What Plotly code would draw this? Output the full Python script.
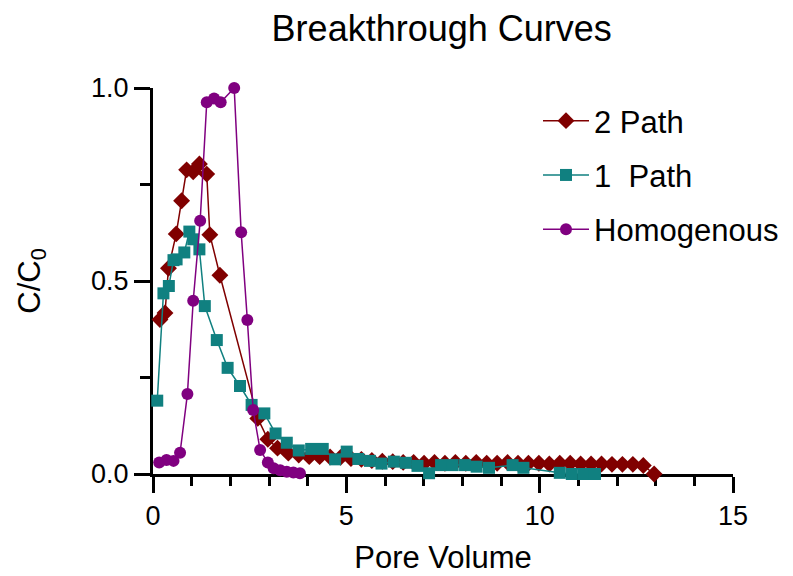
import plotly.graph_objects as go

# ---- data ----
path2_x = [0.18, 0.31, 0.40, 0.60, 0.74, 0.87, 1.04, 1.20, 1.39, 1.47, 1.73,
           2.71, 2.97, 3.22, 3.50, 3.77, 4.04, 4.31, 4.58, 4.85, 5.12, 5.39,
           5.66, 5.93, 6.20, 6.47, 6.74, 7.01, 7.28, 7.55, 7.82, 8.09, 8.36,
           8.63, 8.90, 9.17, 9.44, 9.71, 9.98, 10.25, 10.52, 10.79, 11.06,
           11.33, 11.60, 11.87, 12.14, 12.41, 12.68, 12.96]
path2_y = [0.400, 0.417, 0.533, 0.622, 0.708, 0.788, 0.783, 0.803, 0.777, 0.620, 0.515,
           0.144, 0.090, 0.067, 0.054, 0.049, 0.045, 0.045, 0.044, 0.043, 0.040, 0.038,
           0.035, 0.033, 0.032, 0.030, 0.030, 0.028, 0.030, 0.028, 0.030, 0.028, 0.030,
           0.028, 0.028, 0.030, 0.028, 0.028, 0.028, 0.026, 0.028, 0.028, 0.026,
           0.026, 0.026, 0.025, 0.025, 0.025, 0.022, 0.000]

path1_x = [0.11, 0.27, 0.41, 0.53, 0.61, 0.81, 0.94, 1.04, 1.20, 1.34, 1.65, 1.93,
           2.25, 2.55, 2.88, 3.17, 3.46, 3.77, 4.09, 4.39, 4.71, 5.01, 5.31, 5.61,
           5.91, 6.23, 6.54, 6.84, 7.14, 7.45, 7.75, 8.07, 8.37, 8.69, 9.30, 9.58,
           10.52, 10.83, 11.13, 11.43]
path1_y = [0.190, 0.468, 0.487, 0.554, 0.556, 0.574, 0.628, 0.608, 0.582, 0.435, 0.347, 0.275,
           0.228, 0.179, 0.157, 0.105, 0.081, 0.061, 0.065, 0.065, 0.038, 0.058, 0.039, 0.034,
           0.027, 0.032, 0.029, 0.021, 0.002, 0.023, 0.023, 0.023, 0.019, 0.016, 0.023, 0.016,
           0.003, 0.000, 0.000, 0.000]

homo_x = [0.16, 0.35, 0.53, 0.70, 0.89, 1.04, 1.22, 1.39, 1.58, 1.75, 2.10, 2.28,
          2.44, 2.59, 2.77, 2.97, 3.12, 3.29, 3.46, 3.63, 3.80]
homo_y = [0.030, 0.036, 0.034, 0.055, 0.207, 0.449, 0.656, 0.963, 0.973, 0.963, 1.000, 0.626,
          0.399, 0.166, 0.062, 0.030, 0.015, 0.010, 0.006, 0.004, 0.002]

x_ticks = [0, 5, 10, 15]
y_ticks = [0.0, 0.5, 1.0]

RED = "rgb(128,0,0)"
TEAL = "rgb(16,128,128)"
PURPLE = "rgb(128,0,128)"
FONT = "Liberation Sans, Arial, sans-serif"

fig = go.Figure()
fig.add_trace(go.Scatter(x=path2_x, y=path2_y, mode="lines+markers", name="2 Path",
                         legendgroup="a",
                         line=dict(color=RED, width=1.5),
                         marker=dict(symbol="diamond", size=13, color=RED),
                         cliponaxis=False))
fig.add_trace(go.Scatter(x=path1_x, y=path1_y, mode="lines+markers", name="1  Path",
                         legendgroup="b",
                         line=dict(color=TEAL, width=1.5),
                         marker=dict(symbol="square", size=12, color=TEAL),
                         cliponaxis=False))
fig.add_trace(go.Scatter(x=homo_x, y=homo_y, mode="lines+markers", name="Homogenous",
                         legendgroup="c",
                         line=dict(color=PURPLE, width=1.5),
                         marker=dict(symbol="circle", size=12, color=PURPLE),
                         cliponaxis=False))

axis_common = dict(showline=True, linecolor="black", linewidth=3, ticks="outside",
                   tickcolor="black", tickwidth=3, showgrid=False, zeroline=False,
                   tickfont=dict(family=FONT, size=27, color="black"),
                   layer="below traces")

fig.update_layout(
    width=793, height=576,
    margin=dict(l=153, r=60, t=88, b=102, autoexpand=False),
    paper_bgcolor="white", plot_bgcolor="white",
    font=dict(family=FONT, color="black"),
    title=dict(text="Breakthrough Curves", x=0.557, xanchor="center",
               y=1 - 28 / 576, yanchor="middle",
               font=dict(family=FONT, size=36, color="black")),
    xaxis=dict(range=[0, 15], tickvals=x_ticks, ticktext=[str(v) for v in x_ticks],
               ticklen=16,
               minor=dict(dtick=1, ticklen=9, tickwidth=3, tickcolor="black", ticks="outside"),
               title=dict(text="Pore Volume", font=dict(family=FONT, size=31, color="black"),
                          standoff=16),
               **axis_common),
    yaxis=dict(range=[0, 1], tickvals=y_ticks, ticktext=["0.0", "0.5", "1.0"],
               ticklen=16,
               minor=dict(dtick=0.25, ticklen=10, tickwidth=3, tickcolor="black", ticks="outside"),
               title=dict(text="C/C<sub>0</sub>", font=dict(family=FONT, size=31, color="black"),
                          standoff=42),
               **axis_common),
    legend=dict(x=(538 - 153) / 580, xanchor="left", y=(474 - 94) / 386, yanchor="top",
                font=dict(family=FONT, size=31, color="black"),
                itemwidth=46,
                bgcolor="rgba(0,0,0,0)", tracegroupgap=11, traceorder="grouped"),
    showlegend=True,
)

fig.write_html("out.html")
